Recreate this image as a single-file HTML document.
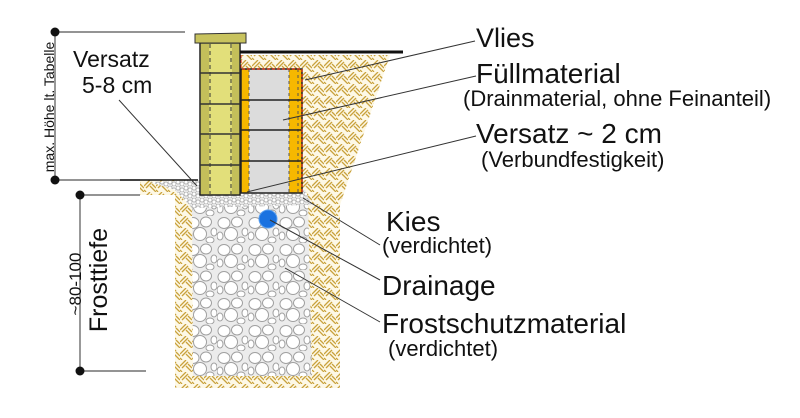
<!DOCTYPE html>
<html><head><meta charset="utf-8"><style>
html,body{margin:0;padding:0;background:#fff;width:800px;height:418px;overflow:hidden}
svg{display:block}
text{font-family:"Liberation Sans",sans-serif;fill:#111}
</style></head><body>
<svg width="800" height="418" viewBox="0 0 800 418" xmlns="http://www.w3.org/2000/svg">
<defs>
<pattern id="hatch" width="12" height="12" patternUnits="userSpaceOnUse">
<rect width="12" height="12" fill="#fdf8e6"/>
<g stroke="#c9a23c" stroke-width="1.3">
<line x1="0" y1="6" x2="6" y2="0"/><line x1="2" y1="8" x2="8" y2="2"/>
<line x1="6" y1="6" x2="12" y2="12"/><line x1="8" y1="4" x2="12" y2="8"/>
<line x1="0" y1="10" x2="2" y2="12"/>
</g>
</pattern>
<pattern id="gravel" width="31" height="27" patternUnits="userSpaceOnUse">
<rect width="31" height="27" fill="#ececec"/>
<g fill="#fff" stroke="#a0a0a0" stroke-width="1">
<ellipse cx="7" cy="7" rx="6" ry="5.5"/><ellipse cx="20" cy="6" rx="5.5" ry="5"/>
<ellipse cx="28" cy="16" rx="3" ry="4"/><ellipse cx="14" cy="18" rx="6.5" ry="6.5"/>
<ellipse cx="3" cy="20" rx="3" ry="4"/><ellipse cx="24" cy="24" rx="4" ry="3"/>
</g>
</pattern>
<pattern id="fine" width="8" height="6" patternUnits="userSpaceOnUse">
<rect width="8" height="6" fill="#e8e8e8"/>
<g fill="#fff" stroke="#aaa" stroke-width="0.8"><circle cx="2" cy="2" r="2"/><circle cx="6" cy="4" r="2"/></g>
</pattern>
</defs>

<polygon points="240,55 390,55 340,205 240,205" fill="url(#hatch)"/>
<polygon points="140,180 200,180 200,192 340,192 340,388 175,388 175,195 140,195" fill="url(#hatch)"/>
<polygon points="192,198 308,198 312,376 193,376" fill="url(#gravel)"/>
<polygon points="150,182 200,180 305,190 312,205 192,208 175,190" fill="url(#fine)"/>

<rect x="241" y="69" width="61" height="124" fill="#dcdcdc"/>
<rect x="241" y="69" width="8" height="124" fill="#f6b800"/>
<rect x="289" y="69" width="13" height="124" fill="#f6b800"/>
<g stroke="#555" stroke-width="1" stroke-dasharray="3,3">
<line x1="249" y1="69" x2="249" y2="193"/><line x1="289" y1="69" x2="289" y2="193"/><line x1="298" y1="69" x2="298" y2="193"/>
</g>
<g stroke="#222" stroke-width="1.5">
<line x1="241" y1="100" x2="302" y2="100"/><line x1="241" y1="130" x2="302" y2="130"/><line x1="241" y1="161" x2="302" y2="161"/>
<rect x="241" y="69" width="61" height="124" fill="none"/>
</g>
<path d="M241,55 L241,69 L302,69 L302,193" fill="none" stroke="#e03010" stroke-width="1.2" stroke-dasharray="3,2"/>

<rect x="200" y="43" width="40" height="152" fill="#e2df7a" stroke="#222" stroke-width="1.5"/>
<rect x="201" y="44" width="8" height="150" fill="#c4bf5a"/>
<rect x="232" y="44" width="7" height="150" fill="#c4bf5a"/>
<g stroke="#333" stroke-width="1" stroke-dasharray="4,3">
<line x1="210" y1="44" x2="210" y2="194"/><line x1="231" y1="44" x2="231" y2="194"/>
</g>
<g stroke="#333" stroke-width="1.5">
<line x1="200" y1="73" x2="240" y2="73"/><line x1="200" y1="104" x2="240" y2="104"/>
<line x1="200" y1="134" x2="240" y2="134"/><line x1="200" y1="165" x2="240" y2="165"/>
</g>
<polygon points="195,34 246,33 246,43 195,43" fill="#c8c35e" stroke="#333" stroke-width="1"/>
<line x1="240" y1="52" x2="403" y2="52" stroke="#111" stroke-width="3"/>

<circle cx="268" cy="219" r="9" fill="#1a72e0" stroke="#5aa0f0" stroke-width="1"/>

<g stroke="#555" stroke-width="1.2">
<line x1="55" y1="32" x2="185" y2="32"/><line x1="55" y1="32" x2="55" y2="180"/>
<line x1="55" y1="180" x2="140" y2="180"/>
<line x1="80" y1="195" x2="140" y2="195"/><line x1="80" y1="195" x2="80" y2="371"/><line x1="80" y1="371" x2="146" y2="371"/>
</g>
<line x1="120" y1="180" x2="198" y2="180" stroke="#111" stroke-width="1.5"/>
<g fill="#111"><circle cx="55" cy="32" r="4.5"/><circle cx="55" cy="180" r="4.5"/><circle cx="80" cy="195" r="4.5"/><circle cx="80" cy="371" r="4.5"/></g>
<text transform="translate(54,107) rotate(-90)" text-anchor="middle" font-size="14">max. Höhe lt. Tabelle</text>
<text transform="translate(81,284) rotate(-90)" text-anchor="middle" font-size="17">~80-100</text>
<text transform="translate(107,280) rotate(-90)" text-anchor="middle" font-size="25">Frosttiefe</text>

<g stroke="#333" stroke-width="1">
<line x1="119" y1="100" x2="197" y2="186"/>
<line x1="305" y1="80" x2="475" y2="41"/>
<line x1="283" y1="120" x2="476" y2="76"/>
<line x1="247" y1="192" x2="476" y2="136"/>
<line x1="303" y1="198" x2="380" y2="245"/>
<line x1="270" y1="220" x2="380" y2="280"/>
<line x1="285" y1="268" x2="380" y2="322"/>
</g>

<text x="73" y="67" font-size="23">Versatz</text>
<text x="82" y="93" font-size="23">5-8 cm</text>
<text x="476" y="47" font-size="27">Vlies</text>
<text x="476" y="83" font-size="28">Füllmaterial</text>
<text x="463" y="106" font-size="22">(Drainmaterial, ohne Feinanteil)</text>
<text x="476" y="143" font-size="28">Versatz ~ 2 cm</text>
<text x="481" y="167" font-size="22">(Verbundfestigkeit)</text>
<text x="386" y="231" font-size="28">Kies</text>
<text x="382" y="253" font-size="22">(verdichtet)</text>
<text x="382" y="295" font-size="28">Drainage</text>
<text x="382" y="333" font-size="28">Frostschutzmaterial</text>
<text x="388" y="356" font-size="22">(verdichtet)</text>
</svg>
</body></html>
